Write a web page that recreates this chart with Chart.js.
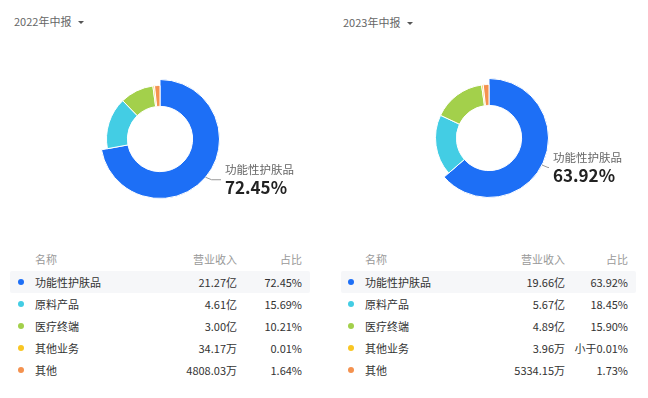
<!DOCTYPE html>
<html>
<head>
<meta charset="utf-8">
<script src="https://cdn.jsdelivr.net/npm/chart.js@4.4.0/dist/chart.umd.min.js"></script>
<style>
  html, body { margin: 0; padding: 0; background: #fff; }
  body { width: 648px; height: 398px; position: relative; overflow: hidden;
         font-family: "Noto Sans CJK SC", "Noto Sans", sans-serif; }
  .title { position: absolute; font-size: 11px; color: #666; line-height: 14px; }
  .title .caret { display: inline-block; margin-left: 7px; width: 0; height: 0;
                  border-left: 3px solid transparent; border-right: 3px solid transparent;
                  border-top: 3.5px solid #555; vertical-align: 2px; }
  .box { position: absolute; top: 40px; width: 324px; height: 200px; }
  .tbl { position: absolute; top: 248px; font-size: 11px; color: #333; }
  .row { position: absolute; left: 0; height: 22px; line-height: 22px; white-space: nowrap; }
  .row.hl { background: #f6f7f9; border-radius: 2px; }
  .row span { position: absolute; }
  .row .dot { width: 6px; height: 6px; border-radius: 50%; top: 8px; }
  .row.head { color: #999; }
</style>
</head>
<body>
<div class="title" style="left:14px; top:14px;">2022年中报<span class="caret"></span></div>
<div class="title" style="left:343px; top:15px;">2023年中报<span class="caret"></span></div>
<div class="box" style="left:0;"><canvas id="chart1"></canvas></div>
<div class="box" style="left:324px;"><canvas id="chart2"></canvas></div>
<div class="tbl" id="table1" style="left:10px; width:300px;"></div>
<div class="tbl" id="table2" style="left:341px; width:295px;"></div>
<script>
var categories = ['功能性护肤品', '原料产品', '医疗终端', '其他业务', '其他'];
var colors = ['#1d6ff6', '#43cde4', '#a3d04b', '#f9c623', '#f4924f'];
var share2022 = [72.45, 15.69, 10.21, 0.01, 1.64];
var share2023 = [63.92, 18.45, 15.90, 0.0013, 1.73];
var revenue2022 = ['21.27亿', '4.61亿', '3.00亿', '34.17万', '4808.03万'];
var revenue2023 = ['19.66亿', '5.67亿', '4.89亿', '3.96万', '5334.15万'];

// tiny slices get a minimum visible angle, like the original
function shown(values) {
  return values.map(function (v) { return Math.max(v, 0.5); });
}
function pctText(v) {
  return v < 0.01 ? '小于0.01%' : v.toFixed(2) + '%';
}

var focusPlugin = {
  id: 'focus',
  beforeDatasetsDraw: function (chart) {
    var meta = chart.getDatasetMeta(0);
    meta.data[0].outerRadius = meta.controller.outerRadius + 6;
  },
  afterDatasetsDraw: function (chart, args, opts) {
    var ctx = chart.ctx;
    var arc = chart.getDatasetMeta(0).data[0];
    var a = opts.angle * Math.PI / 180;
    var x0 = arc.x + Math.cos(a) * arc.outerRadius;
    var y0 = arc.y + Math.sin(a) * arc.outerRadius;
    var textX = arc.x + opts.textDx;
    var lineY = y0 + 2.5;
    ctx.save();
    ctx.strokeStyle = '#999';
    ctx.lineWidth = 1;
    ctx.beginPath();
    ctx.moveTo(x0, y0);
    ctx.lineTo(x0 + 6, lineY);
    ctx.lineTo(textX - 4, lineY);
    ctx.stroke();
    ctx.textAlign = 'left';
    ctx.textBaseline = 'middle';
    ctx.fillStyle = '#666';
    ctx.font = '11.5px "Noto Sans CJK SC", sans-serif';
    ctx.fillText(opts.name, textX, lineY - 10);
    ctx.fillStyle = '#222';
    ctx.font = 'bold 17px "Noto Sans CJK SC", sans-serif';
    ctx.fillText(opts.value, textX, lineY + 8);
    ctx.restore();
  }
};

function makeDonut(id, values, pad, angle, textDx) {
  return new Chart(document.getElementById(id), {
    type: 'doughnut',
    data: {
      labels: categories,
      datasets: [{
        data: shown(values),
        backgroundColor: colors,
        borderColor: '#fff',
        borderWidth: 1
      }]
    },
    options: {
      responsive: true,
      maintainAspectRatio: false,
      animation: false,
      cutout: '61%',
      layout: { padding: pad },
      events: [],
      plugins: {
        legend: { display: false },
        tooltip: { enabled: false },
        focus: { angle: angle, textDx: textDx, name: categories[0], value: pctText(values[0]) }
      }
    },
    plugins: [focusPlugin]
  });
}

var chart1 = makeDonut('chart1', share2022, { left: 106, right: 110, top: 45, bottom: 47 }, 40, 65);
var chart2 = makeDonut('chart2', share2023, { left: 111, right: 105, top: 44, bottom: 48 }, 27, 64);

function makeTable(id, values, revenue, cols) {
  var el = document.getElementById(id);
  var html = '<div class="row head" style="top:0;width:100%;">' +
    '<span style="left:' + cols.name + 'px">名称</span>' +
    '<span style="right:' + cols.rev + 'px">营业收入</span>' +
    '<span style="right:' + cols.pct + 'px">占比</span></div>';
  categories.forEach(function (c, i) {
    html += '<div class="row' + (i === 0 ? ' hl' : '') + '" style="top:' + (23 + i * 22) + 'px;width:100%;">' +
      '<span class="dot" style="left:' + cols.dot + 'px;background:' + colors[i] + '"></span>' +
      '<span style="left:' + cols.name + 'px">' + c + '</span>' +
      '<span style="right:' + cols.rev + 'px">' + revenue[i] + '</span>' +
      '<span style="right:' + cols.pct + 'px">' + pctText(values[i]) + '</span></div>';
  });
  el.innerHTML = html;
}

makeTable('table1', share2022, revenue2022, { dot: 8, name: 25, rev: 73, pct: 8 });
makeTable('table2', share2023, revenue2023, { dot: 7, name: 24, rev: 71, pct: 8 });
</script>
</body>
</html>
